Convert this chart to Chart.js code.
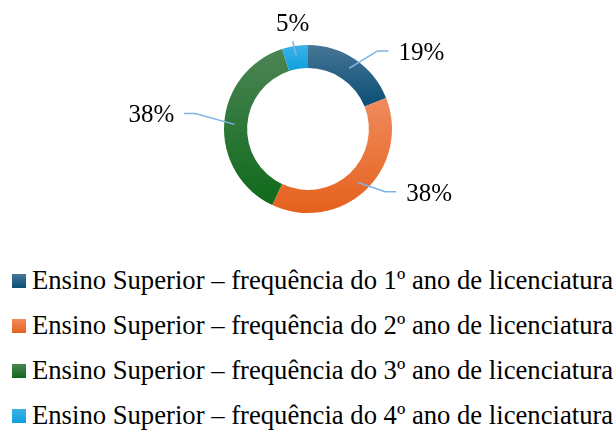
<!DOCTYPE html>
<html>
<head>
<meta charset="utf-8">
<script src="https://cdn.jsdelivr.net/npm/chart.js@4.4.1/dist/chart.umd.min.js"></script>
<style>
  body { margin: 0; background: #fff; width: 616px; height: 430px; overflow: hidden; }
  #wrap { position: absolute; left: 0; top: 0; width: 616px; height: 258px; }
  #legend { position: absolute; left: 12px; top: 258px; font-family: 'Liberation Serif', serif; font-size: 26.67px; color: #000; }
  .row { height: 45px; display: flex; align-items: center; white-space: nowrap; }
  .sw { width: 14px; height: 14px; margin-right: 6px; flex: none; }
</style>
</head>
<body>
<div id="wrap"><canvas id="chart"></canvas></div>
<div id="legend"></div>
<script>
const categories = [
  'Ensino Superior – frequência do 1º ano de licenciatura',
  'Ensino Superior – frequência do 2º ano de licenciatura',
  'Ensino Superior – frequência do 3º ano de licenciatura',
  'Ensino Superior – frequência do 4º ano de licenciatura'
];
const values = [19, 38, 38, 5];
// light (top) and dark (bottom) end of each slice gradient
const colorsLight = ['#467696', '#f08b5e', '#4c8454', '#3cb2e8'];
const colorsDark = ['#0b4e74', '#e5611c', '#0f6a1b', '#0ea0dd'];

// nudges for the label elbows (Excel puts them a bit off the mid angle)
const labelNudge = [[11, 8], [6, -13], [-9, -9], [1, 15]];

// vertical gradient per slice, over the slice's own height
const gradientPlugin = {
  id: 'sliceGradient',
  beforeDatasetsDraw(chart) {
    const ctx = chart.ctx;
    chart.getDatasetMeta(0).data.forEach((arc, i) => {
      const p = arc.getProps(['x', 'y', 'startAngle', 'endAngle', 'innerRadius', 'outerRadius'], true);
      let top = Infinity, bottom = -Infinity;
      for (let k = 0; k <= 40; k++) {
        const a = p.startAngle + (p.endAngle - p.startAngle) * k / 40;
        [p.innerRadius, p.outerRadius].forEach(r => {
          const y = p.y + Math.sin(a) * r;
          top = Math.min(top, y);
          bottom = Math.max(bottom, y);
        });
      }
      const g = ctx.createLinearGradient(0, top, 0, bottom);
      g.addColorStop(0, colorsLight[i]);
      g.addColorStop(1, colorsDark[i]);
      arc.options.backgroundColor = g;
    });
  }
};

const labelPlugin = {
  id: 'leaderLabels',
  afterDatasetsDraw(chart) {
    const ctx = chart.ctx;
    const meta = chart.getDatasetMeta(0);
    ctx.save();
    ctx.font = "25px 'Liberation Serif', serif";
    ctx.fillStyle = '#000';
    ctx.strokeStyle = '#7db3e6';
    ctx.lineWidth = 1.5;
    meta.data.forEach((arc, i) => {
      const p = arc.getProps(['x', 'y', 'startAngle', 'endAngle', 'innerRadius', 'outerRadius'], true);
      const mid = (p.startAngle + p.endAngle) / 2;
      const dx = Math.cos(mid), dy = Math.sin(mid);
      const rs = (p.innerRadius + p.outerRadius) / 2 + 1;
      const sx = p.x + dx * rs, sy = p.y + dy * rs;
      const ex = p.x + dx * (p.outerRadius + 20) + labelNudge[i][0];
      const ey = p.y + dy * (p.outerRadius + 20) + labelNudge[i][1];
      const txt = values[i] + '%';
      ctx.beginPath();
      ctx.moveTo(sx, sy);
      ctx.lineTo(ex, ey);
      ctx.textBaseline = 'alphabetic';
      if (Math.abs(dx) < 0.3) {
        ctx.stroke();
        ctx.textAlign = 'center';
        ctx.fillText(txt, ex, ey - 10);
      } else {
        const side = dx > 0 ? 1 : -1;
        ctx.lineTo(ex + side * 11, ey);
        ctx.stroke();
        ctx.textAlign = side > 0 ? 'left' : 'right';
        ctx.fillText(txt, ex + side * 21, ey + 9);
      }
    });
    ctx.restore();
  }
};

new Chart(document.getElementById('chart'), {
  type: 'doughnut',
  data: {
    labels: categories,
    datasets: [{
      data: values,
      backgroundColor: colorsDark,
      borderWidth: 0
    }]
  },
  options: {
    responsive: true,
    maintainAspectRatio: false,
    animation: false,
    cutout: '72.5%',
    layout: { padding: { top: 45, bottom: 45 } },
    plugins: {
      legend: { display: false },
      tooltip: { enabled: false }
    }
  },
  plugins: [gradientPlugin, labelPlugin]
});

const legend = document.getElementById('legend');
categories.forEach((c, i) => {
  const row = document.createElement('div');
  row.className = 'row';
  const sw = document.createElement('span');
  sw.className = 'sw';
  sw.style.background = 'linear-gradient(' + colorsLight[i] + ', ' + colorsDark[i] + ')';
  const t = document.createElement('span');
  t.textContent = c;
  row.appendChild(sw);
  row.appendChild(t);
  legend.appendChild(row);
});
</script>
</body>
</html>
